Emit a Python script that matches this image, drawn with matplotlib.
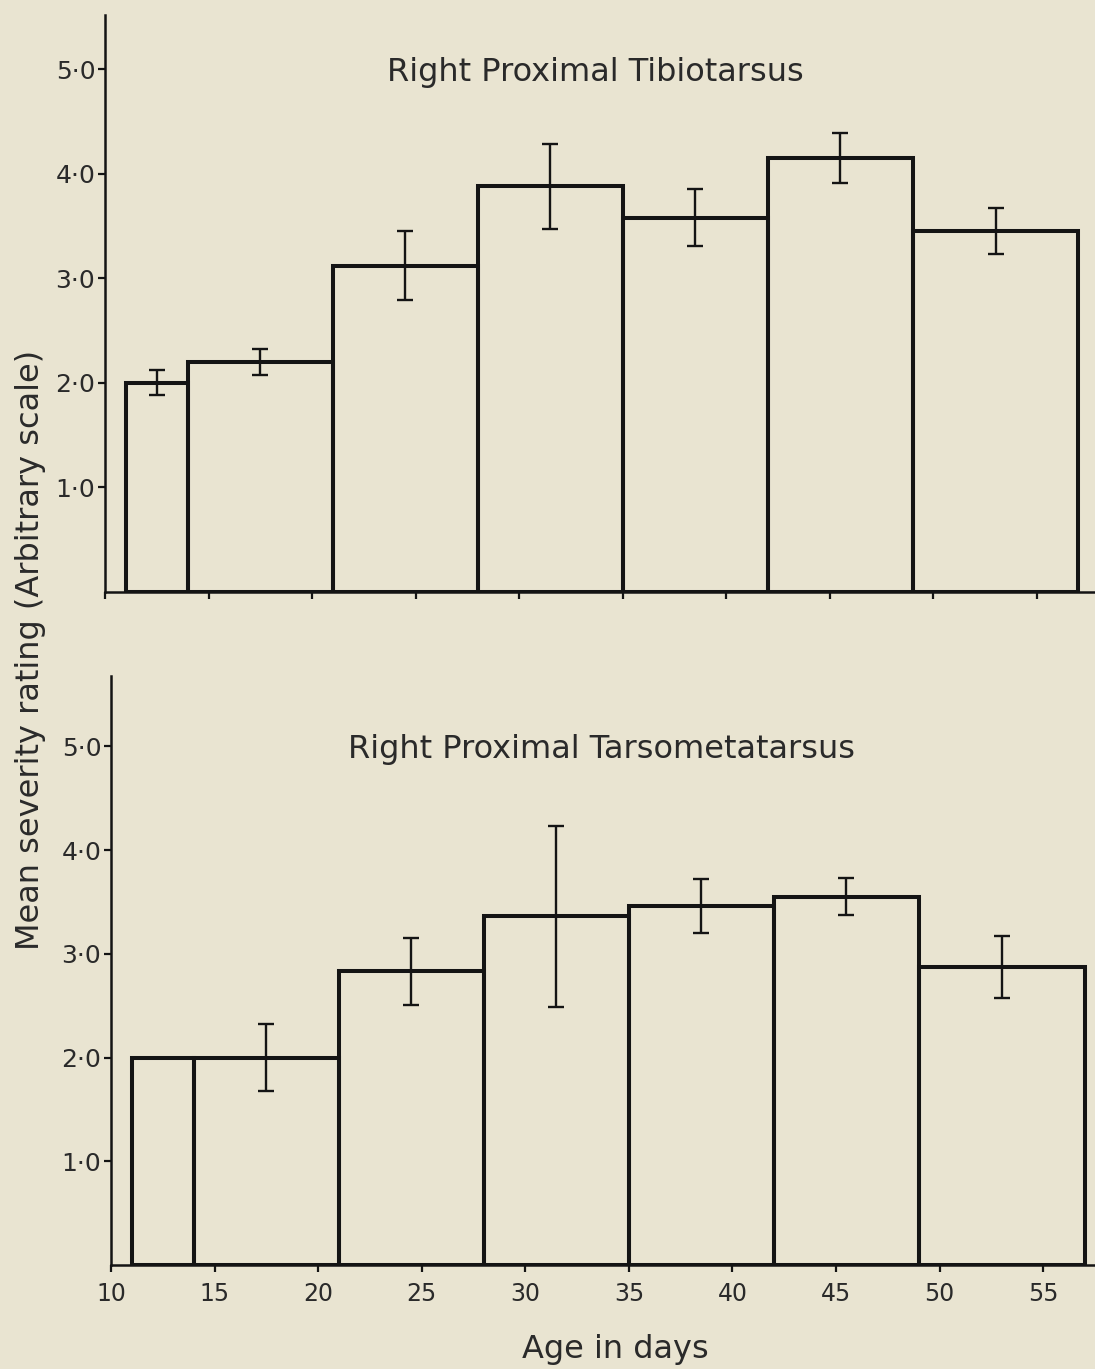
import matplotlib.pyplot as plt
import numpy as np

# age bins (days) - weekly groups, first one is short
bin_edges = [11, 14, 21, 28, 35, 42, 49, 57]
err_x = [12.5, 17.5, 24.5, 31.5, 38.5, 45.5, 53]

tibio_means = [2.0, 2.2, 3.12, 3.88, 3.58, 4.15, 3.45]
tibio_err = [0.12, 0.12, 0.33, 0.41, 0.27, 0.24, 0.22]

tarso_means = [2.0, 2.0, 2.83, 3.36, 3.46, 3.55, 2.87]
tarso_err = [np.nan, 0.32, 0.32, 0.87, 0.26, 0.18, 0.30]

x_ticks = [10, 15, 20, 25, 30, 35, 40, 45, 50, 55]
y_ticks = [1.0, 2.0, 3.0, 4.0, 5.0]
y_ticklabels = ['1·0', '2·0', '3·0', '4·0', '5·0']

BG = '#e9e4d1'
INK = '#141414'
TXT = '#2a2a2a'

plt.rcParams['font.family'] = ['DejaVu Sans']

fig = plt.figure(figsize=(10.95, 13.69), dpi=100)
fig.patch.set_facecolor(BG)


def draw_panel(ax, means, errs, title, xlim, ylim, show_xlabels):
    ax.set_facecolor(BG)
    widths = np.diff(bin_edges)
    ax.bar(bin_edges[:-1], means, width=widths, align='edge', fill=False,
           edgecolor=INK, linewidth=2.9)
    ax.errorbar(err_x, means, yerr=errs, fmt='none', ecolor=INK,
                elinewidth=1.7, capsize=5.5, capthick=1.7)
    ax.set_xlim(*xlim)
    ax.set_ylim(*ylim)
    for side in ['top', 'right']:
        ax.spines[side].set_visible(False)
    for side in ['left', 'bottom']:
        ax.spines[side].set_linewidth(1.8)
        ax.spines[side].set_color(INK)
    ax.set_yticks(y_ticks)
    ax.set_yticklabels(y_ticklabels, fontsize=18, color=TXT)
    ax.set_xticks(x_ticks)
    if show_xlabels:
        ax.set_xticklabels([str(t) for t in x_ticks], fontsize=17, color=TXT)
    else:
        ax.set_xticklabels([])
    ax.tick_params(axis='y', direction='out', length=5, width=1.6, color=INK, pad=2)
    ax.tick_params(axis='x', direction='out', length=5, width=1.6, color=INK, pad=7)
    ax.text(33.7, 4.97, title, ha='center', va='center', fontsize=23, color=TXT)


ax1 = fig.add_axes([0.0959, 0.5676, 0.9041, 0.4215])
draw_panel(ax1, tibio_means, tibio_err, 'Right Proximal Tibiotarsus',
           (10, 57.8), (0, 5.52), False)

ax2 = fig.add_axes([0.1014, 0.0760, 0.8986, 0.4303])
draw_panel(ax2, tarso_means, tarso_err, 'Right Proximal Tarsometatarsus',
           (10, 57.5), (0, 5.68), True)

fig.text(0.5616, 0.0139, 'Age in days', ha='center', va='center', fontsize=23, color=TXT)
fig.text(0.0274, 0.525, 'Mean severity rating (Arbitrary scale)', ha='center', va='center',
         rotation=90, fontsize=23, color=TXT)

fig.savefig('out.png', dpi=100, facecolor=BG)
